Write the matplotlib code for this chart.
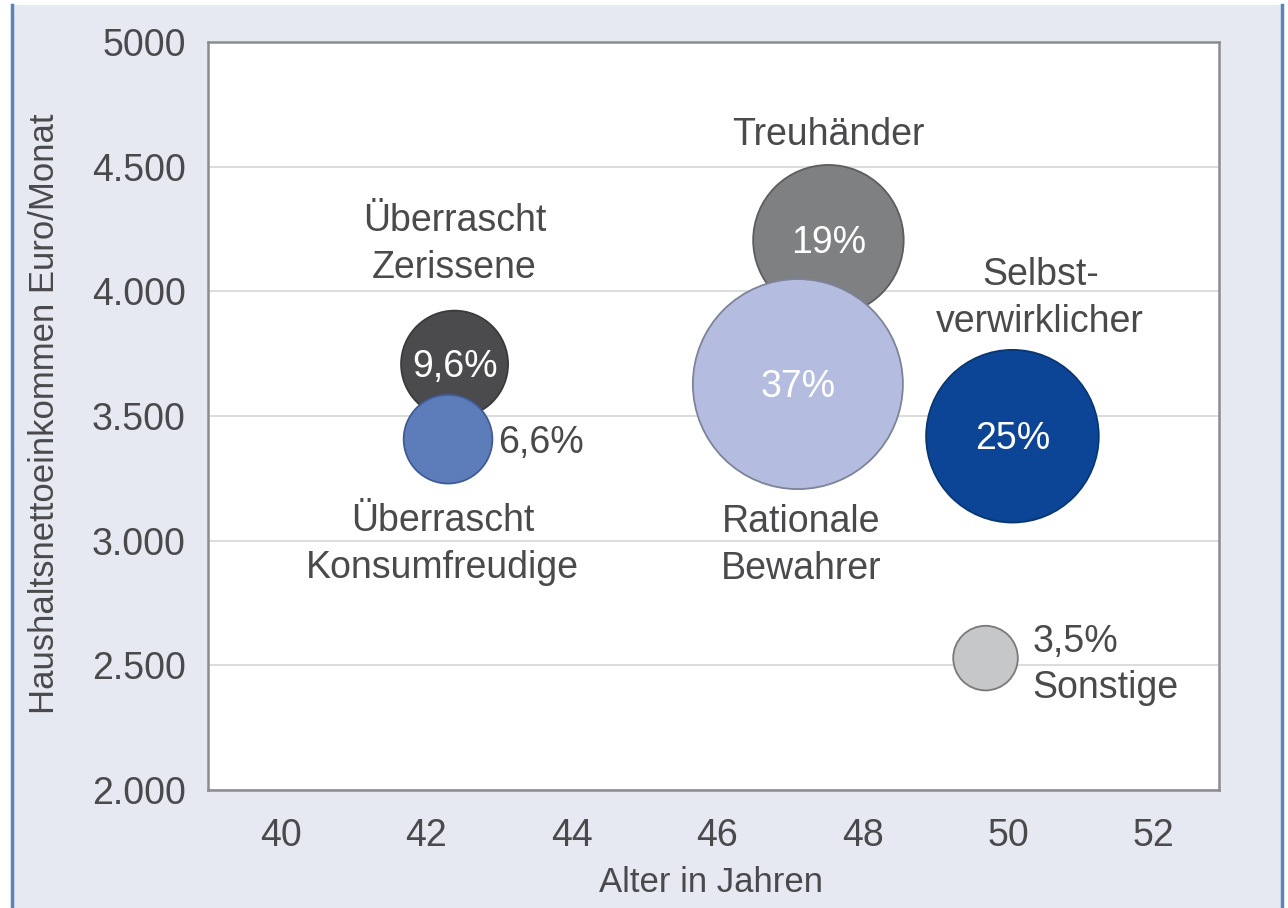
import matplotlib
matplotlib.use('Agg')
import matplotlib.pyplot as plt
from matplotlib.patches import Rectangle
from matplotlib.lines import Line2D

plt.rcParams['font.family'] = ['Liberation Sans', 'DejaVu Sans']

# Daten: Typen, Alter, Einkommen, Anteil
segments = ['Überrascht Zerissene', 'Überrascht Konsumfreudige', 'Treuhänder',
            'Rationale Bewahrer', 'Selbstverwirklicher', 'Sonstige']
age = [42.39, 42.30, 47.53, 47.11, 50.06, 49.69]
income = [3708, 3407, 4205, 3628, 3419, 2529]
share = [9.6, 6.6, 19, 37, 25, 3.5]
share_labels = ['9,6%', '6,6%', '19%', '37%', '25%', '3,5%']

colors = ['#4b4b4d', '#5d7cba', '#7f8082', '#b4bddf', '#0c4595', '#c6c7c9']
edges = ['#3a3a3c', '#405c94', '#5c5d60', '#7d8398', '#083672', '#7a7a7c']

yticks = [2000, 2500, 3000, 3500, 4000, 4500, 5000]
ytick_labels = ['2.000', '2.500', '3.000', '3.500', '4.000', '4.500', '5000']
xticks = [40, 42, 44, 46, 48, 50, 52]

txt = '#4a4a4c'
fig = plt.figure(figsize=(12.88, 9.08), dpi=100, facecolor='white')

# Hintergrund mit blauen Randlinien
fig.add_artist(Rectangle((12 / 1288, 0), 1270 / 1288, 903 / 908,
                         transform=fig.transFigure, facecolor='#e6e9f2',
                         edgecolor='none', zorder=-10))
for xp in [12 / 1288, 1282 / 1288]:
    fig.add_artist(Line2D([xp, xp], [0, 903 / 908], transform=fig.transFigure,
                          color='#5b84bf', lw=2.5, zorder=-9))

ax = fig.add_axes([208 / 1288, 118 / 908, 1011 / 1288, 748 / 908])
ax.set_facecolor('white')
ax.set_xlim(39.0, 52.9)
ax.set_ylim(2000, 5000)

for s in ax.spines.values():
    s.set_color('#8c8c8e')
    s.set_linewidth(1.8)

ax.set_yticks(yticks)
ax.set_yticklabels(ytick_labels)
ax.set_xticks(xticks)
ax.tick_params(length=0, labelsize=27, labelcolor=txt)
ax.tick_params(axis='y', pad=16)
ax.tick_params(axis='x', pad=20)
ax.grid(axis='y', color='#d9d9d9', lw=1.3)
ax.set_axisbelow(True)

# Blasengröße proportional zum Anteil (Fläche)
sizes = [v * 618 for v in share]
ax.scatter(age, income, s=sizes, c=colors, edgecolors=edges, linewidths=1.3, zorder=3)

# Prozentwerte in den Blasen
for i in [0, 2, 3, 4]:
    ax.annotate(share_labels[i], (age[i], income[i]), xytext=(0, -2),
                textcoords='offset points', ha='center', va='center',
                fontsize=27, color='white', zorder=5)

# Beschriftungen der Segmente
lab = dict(fontsize=27, color=txt, textcoords='offset points', zorder=5,
           linespacing=1.38)
ax.annotate('Überrascht\nZerissene', (age[0], income[0]), xytext=(0, 86),
            ha='center', va='center', **lab)
ax.annotate('Überrascht\nKonsumfreudige', (age[1], income[1]), xytext=(-4, -76),
            ha='center', va='center', **lab)
ax.annotate(share_labels[1], (age[1], income[1]), xytext=(36, -3),
            ha='left', va='center', **lab)
ax.annotate('Treuhänder', (age[2], income[2]), xytext=(0, 76),
            ha='center', va='center', **lab)
ax.annotate('Rationale\nBewahrer', (age[3], income[3]), xytext=(2, -116),
            ha='center', va='center', **lab)
ax.annotate('Selbst-\nverwirklicher', (age[4], income[4]), xytext=(20, 99),
            ha='center', va='center', **lab)
ax.annotate(share_labels[5] + '\nSonstige', (age[5], income[5]), xytext=(34, -5),
            ha='left', va='center', **lab)

fig.text(711 / 1288, 1 - 882 / 908, 'Alter in Jahren', ha='center', va='center',
         fontsize=25, color=txt)
fig.text(45 / 1288, 1 - 414 / 908, 'Haushaltsnettoeinkommen Euro/Monat', ha='center',
         va='center', rotation=90, fontsize=25, color=txt)

fig.savefig('out.png', dpi=100, facecolor=fig.get_facecolor())
